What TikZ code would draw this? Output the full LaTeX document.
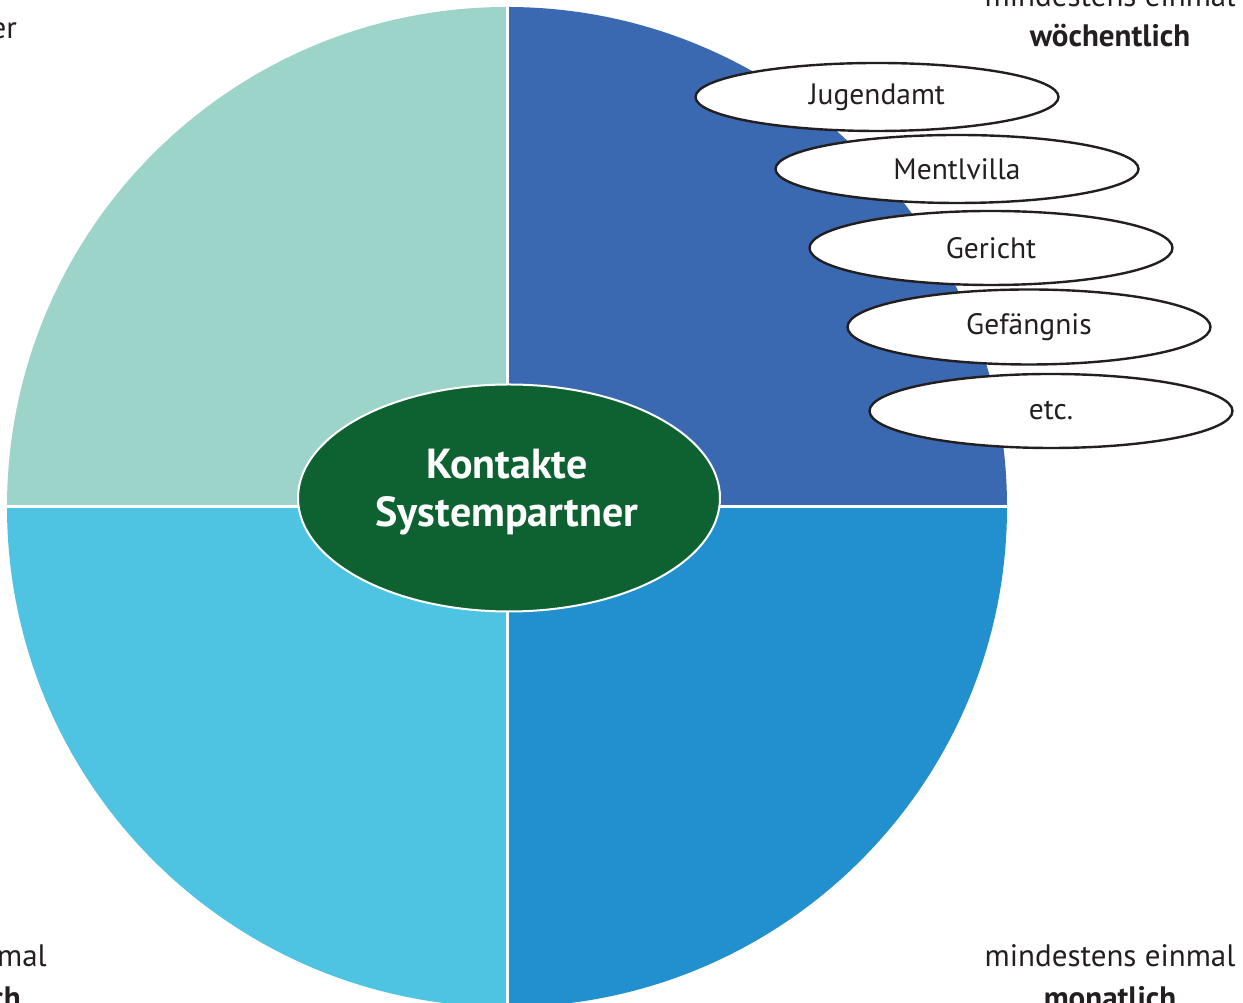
\documentclass[tikz,border=0pt]{standalone}
\usepackage{fontspec}
\setmainfont{PT Sans}
\usetikzlibrary{shapes.geometric}
\definecolor{qTR}{HTML}{3A69B2}
\definecolor{qBR}{HTML}{2290CF}
\definecolor{qBL}{HTML}{4FC4E2}
\definecolor{qTL}{HTML}{9DD4C9}
\definecolor{core}{HTML}{0E6231}
\definecolor{ink}{HTML}{231F20}
\tikzset{
  partner/.style={ellipse, draw=ink, line width=2.4pt, fill=white, inner sep=0pt,
    minimum width=363pt, minimum height=68pt, text=ink, font=\fontsize{29.5}{34}\selectfont},
  corner/.style={text=ink, font=\fontsize{31}{36}\selectfont, inner sep=0pt},
  cornerb/.style={text=ink, font=\fontsize{31}{36}\selectfont\bfseries, inner sep=0pt},
  sep/.style={white, line width=3pt}
}
\begin{document}
\begin{tikzpicture}[x=1pt,y=1pt]
\useasboundingbox (0,0) rectangle (1243,1003);
\clip (0,0) rectangle (1243,1003);
\fill[white] (0,0) rectangle (1243,1003);
\coordinate (C) at (507,496);
\fill[qTR] (C) -- (507,996) arc[start angle=90,end angle=0,radius=500] -- cycle;
\fill[qTL] (C) -- (7,496) arc[start angle=180,end angle=90,radius=500] -- cycle;
\fill[qBL] (C) -- (7,496) arc[start angle=180,end angle=270,radius=500] -- cycle;
\fill[qBR] (C) -- (507,-4) arc[start angle=270,end angle=360,radius=500] -- cycle;
\coordinate (T) at (507,996);
\coordinate (B) at (507,-4);
\coordinate (L) at (7,496);
\coordinate (R) at (1007,496);
\draw[sep] (T) -- (B);
\draw[sep] (L) -- (R);
\node[ellipse, fill=core, draw=white, line width=2pt, minimum width=422pt, minimum height=227pt, inner sep=0pt] (core) at (509,505) {};
\node[text=white, align=center, font=\fontsize{42}{48}\selectfont\bfseries] (coretext) at (507,511) {Kontakte\\Systempartner};
\node[partner] (jug) at (877,906) {Jugendamt};
\node[partner] (men) at (957,834) {Mentlvilla};
\node[partner, minimum height=74pt] (ger) at (991,755) {Gericht};
\node[partner, minimum height=75pt] (gef) at (1029,676) {Gefängnis};
\node[partner, minimum height=74pt] (etc) at (1051,592) {etc.};
% corner labels
\node[corner, anchor=base] (w1) at (1110,996) {mindestens einmal};
\node[cornerb, anchor=base] (w2) at (1110,956) {wöchentlich};
\node[corner, anchor=base] (m1) at (1110,36) {mindestens einmal};
\node[cornerb, anchor=base] (m2) at (1110,-6) {monatlich};
\node[corner, anchor=base east] (tl) at (17,964) {er};
\node[corner, anchor=base east] (bl1) at (47,36) {mal};
\node[cornerb, anchor=base east] (bl2) at (21,-6) {ch};
\end{tikzpicture}
\end{document}
